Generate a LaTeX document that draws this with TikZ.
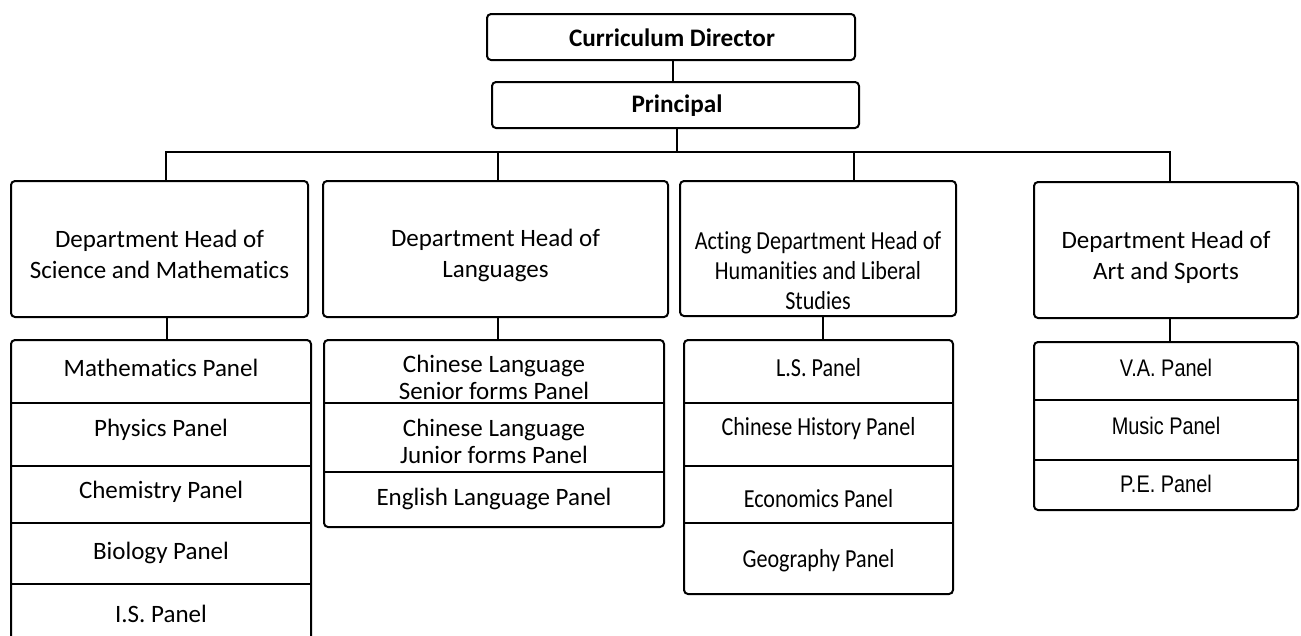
\documentclass[tikz,border=0pt]{standalone}
\usepackage{fontspec}
\setmainfont{Carlito}[Ligatures=NoCommon]
\newfontfamily\condfont{Carlito}[FakeStretch=0.85, Ligatures=NoCommon]
\newfontfamily\narrowfont{Liberation Sans}[FakeStretch=0.83]
\begin{document}
\begin{tikzpicture}[x=1pt,y=-1pt,
  box/.style={draw, line width=2pt, rounded corners=4pt, inner sep=0pt},
  txt/.style={inner sep=0pt, align=center, font=\fontsize{25}{31}\selectfont},
  ctxt/.style={inner sep=0pt, align=center, font=\condfont\fontsize{26}{30}\selectfont},
  ptxt/.style={inner sep=0pt, align=center, font=\fontsize{25}{27}\selectfont},
  ntxt/.style={inner sep=0pt, align=center, font=\narrowfont\fontsize{24}{28}\selectfont},
  btxt/.style={inner sep=0pt, align=center, font=\bfseries\fontsize{25.2}{29}\selectfont},
  conn/.style={line width=2pt},
  divider/.style={line width=2pt}]
\useasboundingbox (0,0) rectangle (1301,635);
% top boxes
\node[box, minimum width=368pt, minimum height=46pt] (cd) at (671,37) {};
\node[btxt] (cdt) at (672,37.5) {Curriculum Director};
\node[box, minimum width=367pt, minimum height=46pt] (pr) at (675.5,105) {};
\node[btxt] (prt) at (677,105.5) {Principal};
% department heads
\node[box, minimum width=297pt, minimum height=136pt] (h1) at (159.5,249) {};
\node[box, minimum width=345pt, minimum height=136pt] (h2) at (495.5,249) {};
\node[box, minimum width=276pt, minimum height=135pt] (h3) at (818,248.5) {};
\node[box, minimum width=264pt, minimum height=136pt] (h4) at (1166,250) {};
\node[txt] (t1) at (159.5,254) {Department Head of\\Science and Mathematics};
\node[txt] (t2) at (495.5,255) {Department Head of\\Languages};
\node[ctxt] (t3) at (818,271) {Acting Department Head of\\Humanities and Liberal\\Studies};
\node[txt] (t4) at (1166,257.5) {Department Head of\\Art and Sports};
% panel groups
\node[box, minimum width=300pt, minimum height=310pt] (g1) at (161,495) {};
\node[box, minimum width=340pt, minimum height=187pt] (g2) at (494,433.5) {};
\node[box, minimum width=269pt, minimum height=254pt] (g3) at (818.5,467) {};
\node[box, minimum width=264pt, minimum height=168pt] (g4) at (1166,426) {};
% dividers
\foreach \yy in {403,466,523,584} \draw[divider] (g1.west |- 0,\yy) -- (g1.east |- 0,\yy);
\foreach \yy in {403,472} \draw[divider] (g2.west |- 0,\yy) -- (g2.east |- 0,\yy);
\foreach \yy in {403,466,523} \draw[divider] (g3.west |- 0,\yy) -- (g3.east |- 0,\yy);
\foreach \yy in {400,460} \draw[divider] (g4.west |- 0,\yy) -- (g4.east |- 0,\yy);
% panel texts
\node[ptxt] (p11) at (161,368) {Mathematics Panel};
\node[ptxt] (p12) at (161,430) {Physics Panel};
\node[ptxt] (p13) at (161,492) {Chemistry Panel};
\node[ptxt] (p14) at (161,553) {Biology Panel};
\node[ptxt] (p15) at (161,614) {I.S. Panel};
\node[ptxt] (p21) at (494,377.5) {Chinese Language\\Senior forms Panel};
\node[ptxt] (p22) at (494,441) {Chinese Language\\Junior forms Panel};
\node[ptxt] (p23) at (494,499) {English Language Panel};
\node[ctxt] (p31) at (818.5,368) {L.S. Panel};
\node[ctxt] (p32) at (818.5,429) {Chinese History Panel};
\node[ctxt] (p33) at (818.5,499) {Economics Panel};
\node[ctxt] (p34) at (818.5,561) {Geography Panel};
\node[ntxt] (p41) at (1166,368) {V.A. Panel};
\node[ntxt] (p42) at (1166,426) {Music Panel};
\node[ntxt] (p43) at (1166,484) {P.E. Panel};
% connectors
\coordinate (b1) at (166,152);
\coordinate (b2) at (498,152);
\coordinate (b3) at (854,152);
\coordinate (b4) at (1170,152);
\draw[conn] (cd.south -| 673,0) -- (pr.north -| 673,0);
\draw[conn] (pr.south -| 677,0) -- (b1 -| 677,0);
\draw[conn] (h1.north -| b1) -- (b1) -- (b4) -- (h4.north -| b4);
\draw[conn] (b2) -- (h2.north -| b2);
\draw[conn] (b3) -- (h3.north -| b3);
\draw[conn] (h1.south -| 167,0) -- (g1.north -| 167,0);
\draw[conn] (h2.south -| 498,0) -- (g2.north -| 498,0);
\draw[conn] (h3.south -| 823,0) -- (g3.north -| 823,0);
\draw[conn] (h4.south -| 1170,0) -- (g4.north -| 1170,0);
\end{tikzpicture}
\end{document}
